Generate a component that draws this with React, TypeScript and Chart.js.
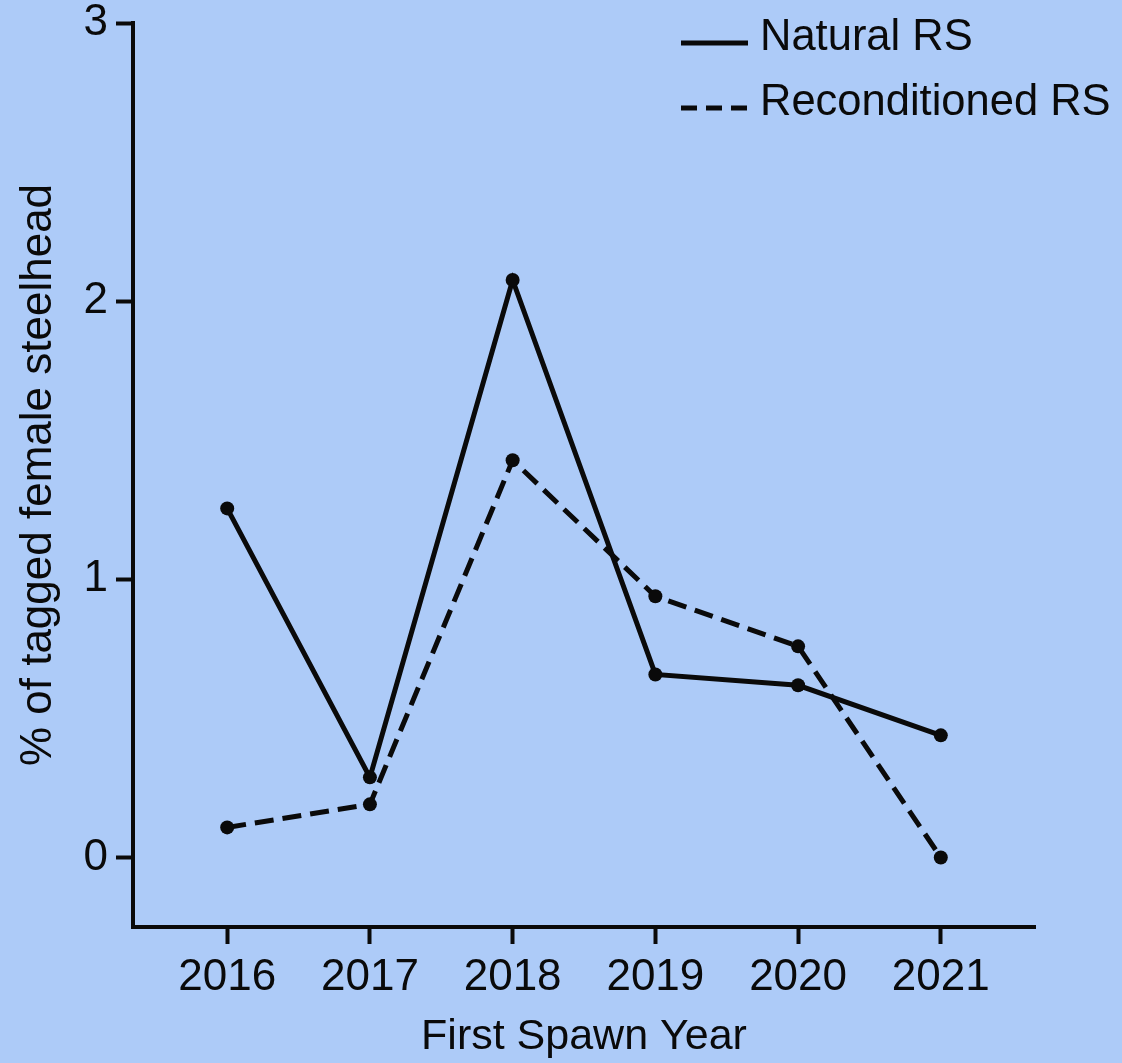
import React, { useEffect, useRef } from "react";
import { Chart, registerables } from "chart.js";

Chart.register(...registerables);

// First spawn years on the x axis
const years = [2016, 2017, 2018, 2019, 2020, 2021];
// % of tagged female steelhead, repeat spawners after a natural kelt stage
const naturalRS = [1.255, 0.288, 2.076, 0.658, 0.619, 0.439];
// % of tagged female steelhead, repeat spawners after reconditioning
const reconditionedRS = [0.108, 0.191, 1.428, 0.939, 0.759, 0.0];
// Value-axis tick labels
const yTicks = [0, 1, 2, 3];

const seriesLabels = ["Natural RS", "Reconditioned RS"];

const INK = "#0a0a0a";
const FONT = "'Liberation Sans', Arial, sans-serif";

// Legend drawn as line samples (solid / dashed) followed by the series name
const lineLegend = {
  id: "lineLegend",
  afterDraw(chart: any) {
    const ctx = chart.ctx;
    const rows = [
      { lineY: 43, textY: 50 },
      { lineY: 108, textY: 115 },
    ];
    chart.data.datasets.forEach((ds: any, i: number) => {
      const r = rows[i];
      ctx.save();
      ctx.strokeStyle = INK;
      ctx.lineWidth = 5;
      ctx.setLineDash(ds.borderDash && ds.borderDash.length ? [16, 9] : []);
      ctx.beginPath();
      ctx.moveTo(681, r.lineY);
      ctx.lineTo(748, r.lineY);
      ctx.stroke();
      ctx.setLineDash([]);
      ctx.fillStyle = INK;
      ctx.font = `43.5px ${FONT}`;
      ctx.textAlign = "left";
      ctx.textBaseline = "alphabetic";
      ctx.fillText(ds.label, 760, r.textY);
      ctx.restore();
    });
  },
};

export default function App() {
  const canvasRef = useRef<HTMLCanvasElement | null>(null);

  useEffect(() => {
    const canvas = canvasRef.current;
    if (!canvas) return;

    const toPoints = (vals: number[]) => years.map((x, i) => ({ x, y: vals[i] }));

    const lineStyle = {
      borderColor: INK,
      borderWidth: 5,
      pointRadius: 7,
      pointBackgroundColor: INK,
      pointBorderWidth: 0,
      pointBorderColor: INK,
      fill: false,
      tension: 0,
    };

    const axisCommon = {
      grid: {
        display: true,
        drawOnChartArea: false,
        drawTicks: true,
        tickLength: 17,
        tickWidth: 4,
        tickColor: INK,
      },
      border: { display: true, width: 4, color: INK },
    };

    const chart = new Chart(canvas, {
      type: "line",
      data: {
        datasets: [
          { label: seriesLabels[0], data: toPoints(naturalRS), ...lineStyle },
          {
            label: seriesLabels[1],
            data: toPoints(reconditionedRS),
            ...lineStyle,
            borderDash: [19, 9],
          },
        ],
      },
      options: {
        animation: false,
        responsive: false,
        maintainAspectRatio: false,
        layout: { padding: { top: 23, right: 87, left: 0, bottom: 0 } },
        plugins: {
          legend: { display: false },
          tooltip: { enabled: false },
        },
        scales: {
          x: {
            type: "linear",
            min: 2015.34,
            max: 2021.66,
            ...axisCommon,
            afterBuildTicks: (s: any) => {
              s.ticks = years.map((v) => ({ value: v }));
            },
            afterFit: (s: any) => {
              s.height = 136;
              s.paddingLeft = 0;
              s.paddingRight = 0;
            },
            ticks: {
              color: INK,
              font: { family: FONT, size: 44 },
              padding: 7,
              maxRotation: 0,
              autoSkip: false,
              callback: (v: any) => String(v),
            },
            title: {
              display: true,
              text: "First Spawn Year",
              color: INK,
              font: { family: FONT, size: 43 },
              padding: { top: 0, bottom: 0 },
            },
          },
          y: {
            type: "linear",
            min: -0.25,
            max: 3,
            ...axisCommon,
            afterBuildTicks: (s: any) => {
              s.ticks = yTicks.map((v) => ({ value: v }));
            },
            afterFit: (s: any) => {
              s.width = 133;
              s.paddingTop = 0;
              s.paddingBottom = 0;
            },
            ticks: {
              color: INK,
              font: { family: FONT, size: 44 },
              padding: 8,
              autoSkip: false,
              callback: (v: any) => String(v),
            },
            title: {
              display: true,
              text: "% of tagged female steelhead",
              color: INK,
              font: { family: FONT, size: 44 },
              padding: { top: 12, bottom: 0 },
            },
          },
        },
      },
      plugins: [lineLegend],
    } as any);

    return () => chart.destroy();
  }, []);

  return (
    <div
      style={{
        position: "absolute",
        left: 0,
        top: 0,
        width: 1122,
        height: 1063,
        background: "#adcbf8",
      }}
    >
      <canvas ref={canvasRef} width={1122} height={1063} style={{ display: "block" }} />
    </div>
  );
}
